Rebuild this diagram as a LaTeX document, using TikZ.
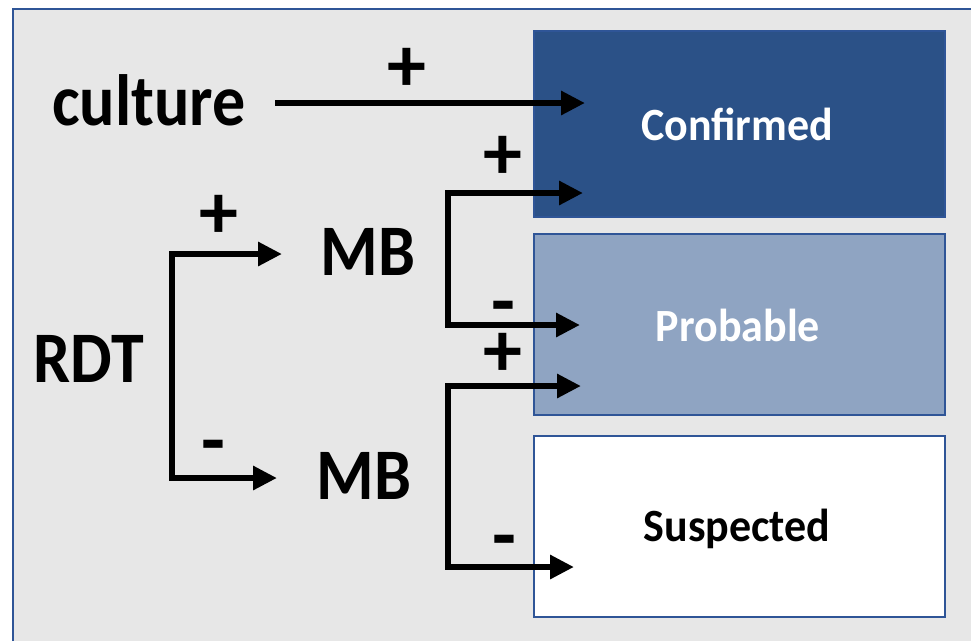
\documentclass[tikz,border=0pt]{standalone}
\usepackage{fontspec}
\setmainfont{Carlito}
\usetikzlibrary{arrows.meta}
\definecolor{framebg}{HTML}{E7E7E7}
\definecolor{frameblue}{HTML}{2F5597}
\definecolor{confblue}{HTML}{2B5187}
\definecolor{probblue}{HTML}{8FA4C2}
\tikzset{
  arr/.style={line width=6pt, -{Triangle[length=24pt,width=23pt]}},
  seg/.style={line width=6pt},
  bigtxt/.style={inner sep=0pt, anchor=base, yscale=1.1, font=\fontsize{66}{66}\selectfont\bfseries},
  boxtxt/.style={inner sep=0pt, anchor=base, yscale=1.05, font=\fontsize{44}{44}\selectfont\bfseries},
  sign/.style={inner sep=0pt, font=\fontsize{78}{78}\selectfont\bfseries},
  catbox/.style={draw=frameblue, line width=1.5pt, minimum width=411pt, anchor=north west, inner sep=0pt}
}
\begin{document}
\begin{tikzpicture}[x=1pt,y=-1pt]
\useasboundingbox (0,0) rectangle (971,641);
\fill[white] (0,0) rectangle (971,641);
\fill[framebg] (13,9) rectangle (971,641);
\draw[frameblue, line width=2pt] (13,641) -- (13,9) -- (971,9);
% boxes
\node[catbox, fill=confblue, minimum height=186pt] (conf) at (533,30) {};
\node[catbox, fill=probblue, minimum height=181pt] (prob) at (533,233) {};
\node[catbox, fill=white, minimum height=181pt] (susp) at (533,435) {};
\node[boxtxt, text=white] (conft) at (737,140) {Confirmed};
\node[boxtxt, text=white] (probt) at (738,341) {Probable};
\node[boxtxt, text=black] (suspt) at (737,541) {Suspected};
% left texts
\node[bigtxt] (culture) at (149,125) {culture};
\node[bigtxt] (rdt) at (89,382) {RDT};
\node[bigtxt] (mbA) at (368,275) {MB};
\node[bigtxt] (mbB) at (364,499) {MB};
% coordinates
\coordinate (c1) at (275,103);
\coordinate (t1) at (585,103);
\coordinate (r1) at (172,254);
\coordinate (r2) at (172,478);
\coordinate (tr1) at (282,254);
\coordinate (tr2) at (277,478);
\coordinate (a1) at (448,193);
\coordinate (a2) at (448,325);
\coordinate (ta1) at (583,193);
\coordinate (ta2) at (580,325);
\coordinate (b1) at (448,386);
\coordinate (b2) at (448,567);
\coordinate (tb1) at (581,386);
\coordinate (tb2) at (574,567);
% connectors
\draw[arr] (c1) -- (t1);
\draw[seg] ([yshift=-3pt]r1) -- ([yshift=3pt]r2);
\draw[arr] ([xshift=-3pt]r1) -- (tr1);
\draw[arr] ([xshift=-3pt]r2) -- (tr2);
\draw[seg] ([yshift=-3pt]a1) -- ([yshift=3pt]a2);
\draw[arr] ([xshift=-3pt]a1) -- (ta1);
\draw[arr] ([xshift=-3pt]a2) -- (ta2);
\draw[seg] ([yshift=-3pt]b1) -- ([yshift=3pt]b2);
\draw[arr] ([xshift=-3pt]b1) -- (tb1);
\draw[arr] ([xshift=-3pt]b2) -- (tb2);
% signs
\node[sign] (p1) at (407,70) {+};
\node[sign] (p2) at (503,158) {+};
\node[sign] (m1) at (503,314) {-};
\node[sign] (p3) at (503,355) {+};
\node[sign] (p4) at (219,217) {+};
\node[sign] (m2) at (213,453) {-};
\node[sign] (m3) at (504,548) {-};
\end{tikzpicture}
\end{document}
